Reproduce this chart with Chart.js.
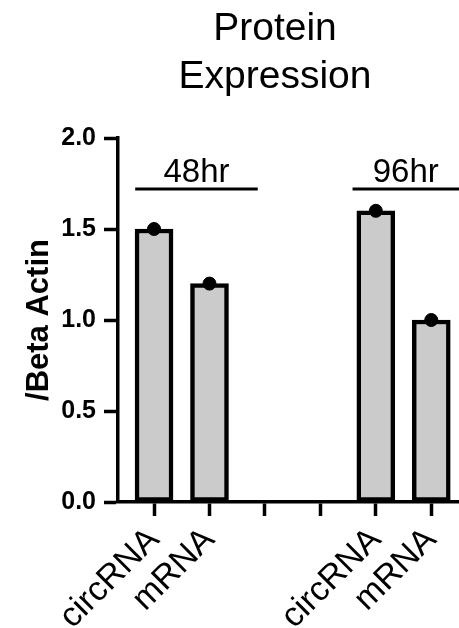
<!DOCTYPE html>
<html>
<head>
<meta charset="utf-8">
<script src="https://cdn.jsdelivr.net/npm/chart.js@4/dist/chart.umd.min.js"></script>
<style>
  html, body { margin: 0; padding: 0; background: #fff; }
  #wrap { width: 459px; height: 628px; }
</style>
</head>
<body>
<div id="wrap"><canvas id="proteinChart" width="459" height="628"></canvas></div>
<script>
// data
const categories = ['circRNA', 'mRNA', '', '', 'circRNA', 'mRNA'];
const expression = [1.5, 1.2, null, null, 1.6, 1.0];
const groupLabels = ['48hr', '96hr'];
const yTicks = [0, 0.5, 1.0, 1.5, 2.0];

const FONT = "'Liberation Sans', Arial, Helvetica, sans-serif";

const points = [];
expression.forEach(function(v, i) {
    if (v !== null) points.push({ x: i, y: v });
});

// bracket spans in x units, line height in y units
const groupSpans = [[-0.34, 1.87], [3.58, 5.5]];
const groupLineY = 1.72;

const groupPlugin = {
    id: 'groups',
    afterDraw(chart) {
        const ctx = chart.ctx;
        const xs = chart.scales.x, ys = chart.scales.y;
        ctx.save();
        ctx.strokeStyle = '#000';
        ctx.lineWidth = 3;
        ctx.fillStyle = '#000';
        ctx.font = '33px ' + FONT;
        ctx.textAlign = 'center';
        ctx.textBaseline = 'alphabetic';
        groupLabels.forEach(function(lbl, i) {
            const x0 = xs.getPixelForValue(groupSpans[i][0]);
            const x1 = xs.getPixelForValue(groupSpans[i][1]);
            const y = ys.getPixelForValue(groupLineY);
            ctx.beginPath();
            ctx.moveTo(x0, y);
            ctx.lineTo(x1, y);
            ctx.stroke();
            ctx.fillText(lbl, (x0 + x1) / 2, y - 7);
        });
        // two line title
        ctx.font = '39px ' + FONT;
        ctx.fillText('Protein', 275, 40);
        ctx.fillText('Expression', 275, 88);
        ctx.restore();
    }
};

const ctx = document.getElementById('proteinChart').getContext('2d');
const proteinChart = new Chart(ctx, {
    type: 'bar',
    data: {
        datasets: [{
            type: 'scatter',
            data: points,
            backgroundColor: '#000',
            borderColor: '#000',
            pointRadius: 6.5,
            showLine: false,
            order: 0
        }, {
            data: points,
            backgroundColor: '#cbcbcb',
            borderColor: '#000',
            borderWidth: 4.5,
            borderSkipped: false,
            barThickness: 38,
            order: 1
        }]
    },
    options: {
        responsive: false,
        animation: false,
        layout: { autoPadding: false, padding: { top: 138, left: 0, right: 0, bottom: 0 } },
        plugins: {
            legend: { display: false },
            tooltip: { enabled: false },
            title: { display: false }
        },
        scales: {
            x: {
                type: 'linear',
                min: -0.65,
                max: 5.5,
                offset: false,
                afterBuildTicks: function(s) {
                    s.ticks = categories.map(function(c, i) { return { value: i }; });
                },
                afterFit: function(s) {
                    s.height = 126;
                    s.paddingLeft = 0;
                    s.paddingRight = 0;
                },
                grid: {
                    offset: false,
                    drawOnChartArea: false,
                    drawTicks: true,
                    tickLength: 14,
                    tickWidth: 3.5,
                    tickColor: '#000'
                },
                border: { display: true, color: '#000', width: 3.5 },
                ticks: {
                    autoSkip: false,
                    maxRotation: 45,
                    minRotation: 45,
                    padding: 4,
                    color: '#000',
                    font: { family: FONT, size: 34 },
                    callback: function(v) { return categories[v] || ''; }
                }
            },
            y: {
                min: 0,
                max: 2,
                afterBuildTicks: function(s) {
                    s.ticks = yTicks.map(function(v) { return { value: v }; });
                },
                afterFit: function(s) { s.width = 118; },
                grid: {
                    drawOnChartArea: false,
                    drawTicks: true,
                    tickLength: 14,
                    tickWidth: 3.5,
                    tickColor: '#000'
                },
                border: { display: true, color: '#000', width: 3.5 },
                ticks: {
                    padding: 8,
                    color: '#000',
                    font: { family: FONT, size: 25, weight: 'bold' },
                    callback: function(v) { return v.toFixed(1); }
                },
                title: {
                    display: true,
                    text: '/Beta Actin',
                    color: '#000',
                    padding: { top: 21, bottom: 0 },
                    font: { family: FONT, size: 31, weight: 'bold' }
                }
            }
        }
    },
    plugins: [groupPlugin]
});
</script>
</body>
</html>
